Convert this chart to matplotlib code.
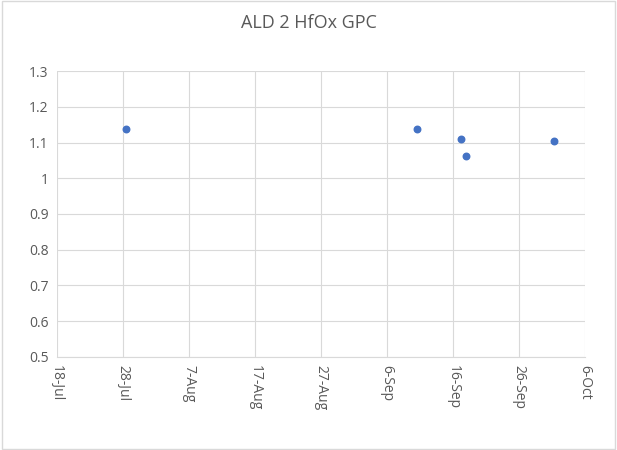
import matplotlib
matplotlib.use("Agg")
import matplotlib.pyplot as plt
import datetime as dt

dates = ["2019-07-28 12:00", "2019-09-10 12:00", "2019-09-17 06:00", "2019-09-18 00:00", "2019-10-01 06:00"]
gpc = [1.137, 1.138, 1.110, 1.063, 1.103]
tick_dates = ["2019-07-18", "2019-07-28", "2019-08-07", "2019-08-17", "2019-08-27",
              "2019-09-06", "2019-09-16", "2019-09-26", "2019-10-06"]

plt.rcParams["font.family"] = "Open Sans"
x = [dt.datetime.strptime(d, "%Y-%m-%d %H:%M") for d in dates]
tx = [dt.datetime.strptime(d, "%Y-%m-%d") for d in tick_dates]

fig = plt.figure(figsize=(6.17, 4.5), dpi=100)
fig.patches.append(plt.Rectangle((0.003, 0.003), 0.994, 0.994, transform=fig.transFigure,
                                 fill=False, edgecolor="#d9d9d9", lw=1))
ax = fig.add_axes([0.092, 0.207, 0.856, 0.635])
ax.scatter(x, gpc, s=22, color="#4472c4", zorder=3)
ax.set_xlim(tx[0], tx[-1])
ax.set_ylim(0.5, 1.3)
ax.set_xticks(tx)
ax.set_xticklabels([d.strftime("%-d-%b") for d in tx], rotation=270, color="#595959", fontsize=10)
ax.set_yticks([0.5 + 0.1 * i for i in range(9)])
ax.set_yticklabels(["0.5", "0.6", "0.7", "0.8", "0.9", "1", "1.1", "1.2", "1.3"], color="#595959", fontsize=10)
ax.grid(True, color="#d9d9d9", lw=0.8)
ax.set_axisbelow(True)
for s in ax.spines.values():
    s.set_visible(False)
ax.spines["bottom"].set_visible(True)
ax.spines["bottom"].set_color("#d9d9d9")
ax.tick_params(length=0, pad=6)
fig.text(0.5, 0.95, "ALD 2 HfOx GPC", ha="center", va="center", fontsize=13, color="#595959")
fig.savefig("out.png", dpi=100)
